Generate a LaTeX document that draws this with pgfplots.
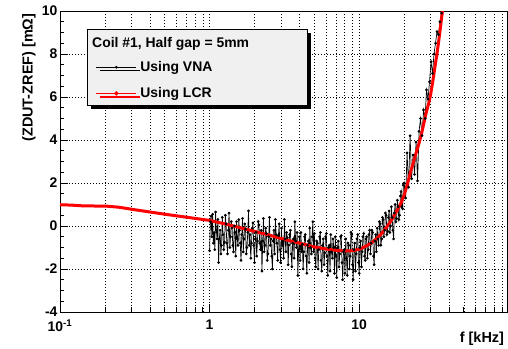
\documentclass[border=0pt]{standalone}
\usepackage{fontspec}
\setmainfont{Liberation Sans}
\usepackage{pgfplots}
\pgfplotsset{compat=1.18}
\usetikzlibrary{shadows}

\pgfplotstableread{
f y
1.000 -1.15
1.012 0.2
1.023 0.45
1.035 -0.5
1.047 0.55
1.059 -0.8
1.072 -0.3
1.084 -1.1
1.096 0.65
1.109 -0.2
1.122 -0.6
1.135 0.3
1.148 -1.7
1.161 -0.6
1.175 -0.2
1.189 -1.3
1.202 -0.9
1.216 0.4
1.230 -0.4
1.245 -1.1
1.259 -0.75
1.274 0.5
1.288 0.1
1.303 -0.8
1.318 -1.3
1.334 -0.2
1.349 0.6
1.365 -1.0
1.380 -0.5
1.396 0.2
1.413 -0.1
1.429 -0.9
1.445 -1.2
1.462 0.0
1.479 -0.3
1.496 -1.4
1.514 0.2
1.531 -0.6
1.549 -0.9
1.567 0.3
1.585 -0.2
1.603 -0.8
1.622 -1.6
1.641 -0.4
1.660 0.35
1.679 -1.2
1.698 -0.6
1.718 0.1
1.738 -0.15
1.758 -1.3
1.778 -1.0
1.799 -0.3
1.820 0.7
1.841 -0.9
1.862 -0.4
1.884 -1.5
1.905 -0.8
1.928 -0.1
1.950 0.15
1.972 -0.9
1.995 -1.7
2.018 -0.6
2.042 -0.3
2.065 -1.4
2.089 -0.7
2.113 0.2
2.138 0.05
2.163 -0.8
2.188 -1.1
2.213 -0.2
2.239 -2.1
2.265 -0.7
2.291 0.35
2.317 -1.2
2.344 -0.9
2.371 -0.1
2.399 -0.35
2.427 -1.6
2.455 -1.3
2.483 -0.5
2.512 0.4
2.541 -0.9
2.570 -0.6
2.600 -1.4
2.630 -2.0
2.661 -0.7
2.692 -0.2
2.723 -1.3
2.754 0.3
2.786 -0.4
2.818 -0.8
2.851 -1.6
2.884 -0.45
2.917 0.1
2.951 -1.1
2.985 -1.7
3.020 -0.1
3.055 -0.9
3.090 -0.7
3.126 -1.5
3.162 0.3
3.199 -0.6
3.236 -1.2
3.273 -0.3
3.311 -0.55
3.350 -1.8
3.388 -0.9
3.428 -0.4
3.467 -0.2
3.508 -1.3
3.548 -1.9
3.589 -0.8
3.631 -0.6
3.673 -1.5
3.715 0.2
3.758 -0.7
3.802 -1.0
3.846 -0.3
3.890 -2.3
3.936 -1.1
3.981 -0.5
4.027 -1.6
4.074 -0.3
4.121 -1.2
4.169 -0.85
4.217 -2.0
4.266 -1.2
4.315 -0.5
4.365 -0.4
4.416 -1.4
4.467 -2.2
4.519 -0.9
4.571 -0.7
4.624 -1.7
4.677 -0.1
4.732 -1.0
4.786 -1.3
4.842 -0.5
4.898 0.2
4.955 -1.2
5.012 -0.35
5.070 -1.5
5.129 -1.9
5.188 -0.7
5.248 -0.8
5.309 -2.0
5.370 -1.1
5.433 -0.5
5.495 -0.3
5.559 -1.6
5.623 -2.1
5.689 -0.9
5.754 -0.6
5.821 -1.8
5.888 -1.25
5.957 -0.5
6.026 -0.35
6.095 -1.4
6.166 -2.3
6.237 -1.0
6.310 -0.9
6.383 -2.1
6.457 -0.4
6.531 -1.2
6.607 -1.5
6.683 -0.6
6.761 -1.0
6.839 -2.2
6.918 -0.5
6.998 -1.4
7.079 -2.4
7.161 -1.0
7.244 -0.7
7.328 -1.9
7.413 -1.3
7.499 -0.5
7.586 -0.45
7.674 -1.7
7.762 -2.5
7.852 -1.2
7.943 -1.1
8.035 -2.2
8.128 -0.6
8.222 -1.5
8.318 -2.3
8.414 -0.8
8.511 -0.9
8.610 -2.0
8.710 -1.4
8.810 -0.3
8.913 -0.4
9.016 -1.8
9.120 -2.5
9.226 -1.1
9.333 -0.8
9.441 -2.1
9.550 -1.3
9.661 -0.6
9.772 -0.4
9.886 -1.7
10.00 -2.2
10.12 -1.0
10.23 -0.7
10.35 -1.9
10.47 -1.2
10.59 -0.5
10.72 -0.35
10.84 -1.4
10.96 -1.6
11.09 -0.6
11.22 -0.5
11.35 -1.5
11.48 -1.1
11.61 -0.4
11.75 -0.2
11.89 -1.3
12.02 -0.8
12.16 -0.2
12.30 -0.3
12.45 -1.4
12.59 -1.8
12.74 -0.7
12.88 -0.4
13.03 -1.2
13.18 -0.1
13.34 -0.6
13.49 -0.9
13.65 0.2
13.80 0.1
13.96 -0.9
14.13 -0.6
14.29 0.4
14.45 0.3
14.62 -0.5
14.79 -0.2
14.96 0.6
15.14 0.5
15.31 -0.4
15.49 -0.25
15.67 0.4
15.85 0.7
16.03 -0.3
16.22 0.0
16.41 0.9
16.60 0.4
16.79 -0.2
16.98 -0.6
17.18 0.6
17.38 1.0
17.58 0.2
17.78 0.35
17.99 1.2
18.20 0.9
18.41 0.3
18.62 0.5
18.84 1.4
19.05 1.6
19.28 0.9
19.50 0.8
19.72 1.9
19.95 2.0
20.42 1.3
20.89 3.4
21.38 1.8
21.88 4.2
22.39 2.2
22.91 3.3
23.44 2.4
23.99 3.9
24.55 2.1
25.12 4.4
25.70 5.0
26.30 4.2
26.92 5.4
27.54 5.0
28.18 6.33
28.84 5.9
29.51 6.7
30.20 7.64
30.90 7.1
31.62 8.0
32.36 8.5
33.11 9.04
33.88 8.9
34.67 9.5
35.48 9.9
}\vna

\pgfplotstableread{
f y
0.10 0.99
0.12 0.97
0.14 0.94
0.17 0.93
0.20 0.93
0.25 0.87
0.30 0.78
0.40 0.65
0.50 0.55
0.70 0.41
1.0 0.26
1.3 0.08
1.6 -0.08
2.0 -0.25
2.5 -0.42
3.0 -0.58
3.5 -0.70
4.0 -0.80
5.0 -0.97
6.0 -1.07
7.0 -1.13
8.0 -1.16
9.0 -1.15
10 -1.08
11 -0.95
12 -0.80
13 -0.60
14 -0.38
15 -0.12
16 0.15
17 0.45
18 0.75
19 1.05
20 1.45
21 1.95
22 2.5
23 2.95
24 3.4
25 3.8
26 4.25
27 4.75
28 5.25
29 5.65
30 6.1
31 6.7
32 7.35
33 7.95
34 8.6
35 9.3
36 10.0
}\lcr

\begin{document}
\begin{tikzpicture}
\useasboundingbox (0,0) rectangle (508bp,349bp);
\begin{axis}[
  at={(60bp,37bp)}, anchor=south west,
  scale only axis, width=447.5bp, height=301bp,
  xmode=log, xmin=0.1, xmax=98, ymin=-4, ymax=10,
  log basis x=10,
  xtick={0.1,1,10}, xticklabels={10\textsuperscript{-1},1,10},
  minor xtick={0.2,0.3,0.4,0.5,0.6,0.7,0.8,0.9,2,3,4,5,6,7,8,9,20,30,40,50,60,70,80,90},
  ytick={-4,-2,0,2,4,6,8,10},
  minor y tick num=3,
  tick align=inside, tick pos=left,
  major tick length=8bp, minor tick length=4.5bp,
  every tick/.style={black, line width=0.6bp},
  axis line style={line width=0.8bp},
  xmajorgrids, xminorgrids, ymajorgrids,
  grid style={black, line width=0.5bp, dash pattern=on 1bp off 2bp},
  major grid style={black, line width=0.5bp, dash pattern=on 1bp off 2bp},
  minor grid style={black, line width=0.5bp, dash pattern=on 1bp off 2bp},
  /pgf/number format/assume math mode=true,
  tick label style={font=\bfseries\fontsize{14}{16}\selectfont},
  xticklabel style={yshift=-4bp},
  yticklabel style={xshift=1bp},
  xlabel={f [kHz]},
  ylabel={(ZDUT-ZREF) [mΩ]},
  label style={font=\bfseries\fontsize{14.5}{16}\selectfont},
  xlabel style={at={(axis description cs:1,0)}, anchor=base east, yshift=-30bp, xshift=0bp},
  ylabel style={at={(axis description cs:-0.0693,1.003)}, anchor=east, rotate=0},
  legend cell align=left,
  legend style={name=leg, at={(axis description cs:0.0603,0.940)}, anchor=north west,
    draw=black, line width=0.8bp, fill=black!6,
    inner xsep=9bp, inner ysep=4bp, row sep=10.5bp,
    font=\bfseries\fontsize{14}{16}\selectfont,
    drop shadow={shadow xshift=3.5bp, shadow yshift=-3.5bp, fill=black, opacity=1}},
  legend image code/.code={\pgfpathmoveto{\pgfpoint{0bp}{-4bp}}\pgfpathlineto{\pgfpoint{40bp}{4bp}}\pgfusepath{use as bounding box}%
    \draw[mark repeat=2, mark phase=2, #1] plot coordinates {(0bp,0bp) (20bp,0bp) (40bp,0bp)};},
]
\addlegendimage{empty legend}
\addlegendentry{\vphantom{Coil}}
\addplot[black, line width=0.7bp, mark=*, mark size=1bp] table[x=f, y=y] {\vna};
\addlegendentry{\hspace*{2bp}\makebox[156bp][l]{Using VNA}}
\addlegendimage{red, line width=1.5bp, mark=*, mark size=1.3bp}
\addlegendentry{\hspace*{2bp}\makebox[156bp][l]{Using LCR}}
\addplot[red, line width=3bp, line join=round, forget plot] table[x=f, y=y] {\lcr};
\end{axis}
\node[anchor=north west, inner sep=0pt, font=\bfseries\fontsize{14}{16}\selectfont]
  at ([xshift=5bp, yshift=-8bp]leg.north west) {Coil \#1, Half gap = 5mm};
\end{tikzpicture}
\end{document}
